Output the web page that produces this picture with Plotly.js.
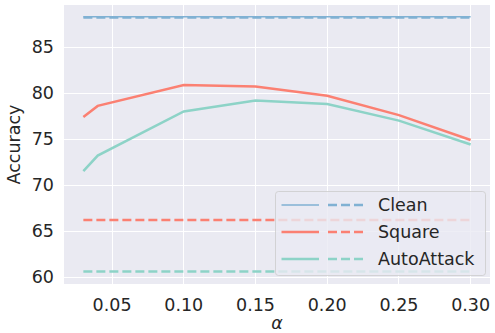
<!DOCTYPE html>
<html><head><meta charset="utf-8">
<script src="https://cdn.plot.ly/plotly-3.0.1.min.js"></script>
<style>html,body{margin:0;padding:0;background:#fff}#c{width:495px;height:333px}</style>
</head><body><div id="c"></div>
<script>
const alphas = [0.03, 0.04, 0.10, 0.15, 0.20, 0.25, 0.30];
const cleanAcc = [88.3, 88.3, 88.3, 88.3, 88.3, 88.3, 88.3];
const squareAcc = [77.4, 78.6, 80.87, 80.7, 79.7, 77.6, 74.9];
const autoAcc = [71.5, 73.2, 78.0, 79.2, 78.8, 77.0, 74.4];
const cleanBase = [88.2, 88.2, 88.2, 88.2, 88.2, 88.2, 88.2];
const squareBase = [66.2, 66.2, 66.2, 66.2, 66.2, 66.2, 66.2];
const autoBase = [60.6, 60.6, 60.6, 60.6, 60.6, 60.6, 60.6];
const names = ['Clean', 'Square', 'AutoAttack'];
const xTicks = [0.05, 0.10, 0.15, 0.20, 0.25, 0.30];
const yTicks = [60, 65, 70, 75, 80, 85];

const colors = ['#80b1d3', '#fb8072', '#8dd3c7'];
const solidW = [1.5, 2.5, 2.5];
const dash = '9px,4px';
const FONT = 'DejaVu Sans, sans-serif';
const FS = 17.5;
const txt = '#262626';

const solid = [cleanAcc, squareAcc, autoAcc];
const base = [cleanBase, squareBase, autoBase];
const traces = [];
for (let i = 0; i < 3; i++) {
  traces.push({x: alphas, y: solid[i], mode: 'lines', line: {color: colors[i], width: solidW[i]}, showlegend: false, hoverinfo: 'skip'});
  traces.push({x: alphas, y: base[i], mode: 'lines', line: {color: colors[i], width: 2.5, dash: dash}, showlegend: false, hoverinfo: 'skip'});
}

const W = 495, H = 333, L = 64, R = 5, T = 5, B = 49;
const pw = W - L - R, ph = H - T - B;
const px = v => (v - L) / pw;
const py = v => 1 - (v - T) / ph;
const shapes = [];
const annotations = [];
(function(){
  const x0 = 275.5, x1 = 485.5, y0 = 191.5, y1 = 275.5, r = 3;
  const p = `M${px(x0+r)},${py(y0)} L${px(x1-r)},${py(y0)} Q${px(x1)},${py(y0)} ${px(x1)},${py(y0+r)} L${px(x1)},${py(y1-r)} Q${px(x1)},${py(y1)} ${px(x1-r)},${py(y1)} L${px(x0+r)},${py(y1)} Q${px(x0)},${py(y1)} ${px(x0)},${py(y1-r)} L${px(x0)},${py(y0+r)} Q${px(x0)},${py(y0)} ${px(x0+r)},${py(y0)} Z`;
  shapes.push({type: 'path', xref: 'paper', yref: 'paper', path: p, fillcolor: 'rgba(234,234,242,0.8)', line: {color: 'rgba(204,204,204,0.8)', width: 1}, layer: 'above'});
})();
const rowsY = [205, 232, 259];
for (let i = 0; i < 3; i++) {
  const yy = py(rowsY[i]);
  shapes.push({type: 'line', xref: 'paper', yref: 'paper', x0: px(281.5), x1: px(319), y0: yy, y1: yy, line: {color: colors[i], width: solidW[i]}, layer: 'above'});
  shapes.push({type: 'line', xref: 'paper', yref: 'paper', x0: px(328), x1: px(365), y0: yy, y1: yy, line: {color: colors[i], width: 2.5, dash: dash}, layer: 'above'});
  annotations.push({xref: 'paper', yref: 'paper', x: px(376), y: yy, xanchor: 'left', yanchor: 'middle', text: names[i], showarrow: false, font: {family: FONT, size: FS, color: txt}});
}

const layout = {
  width: W, height: H,
  margin: {l: L, r: R, t: T, b: B, pad: 0},
  paper_bgcolor: '#ffffff', plot_bgcolor: '#eaeaf2',
  font: {family: FONT, size: FS, color: txt},
  showlegend: false,
  xaxis: {range: [0.0165, 0.3135], tickvals: xTicks, ticktext: xTicks.map(v => v.toFixed(2)), showgrid: true, gridcolor: '#ffffff', gridwidth: 1, zeroline: false, showline: false, ticks: '', ticklabelstandoff: 8,
    tickfont: {family: FONT, size: FS, color: txt},
    title: {text: '<i>α</i>', font: {family: FONT, size: FS, color: txt}, standoff: 2}},
  yaxis: {range: [59.24, 89.57], tickvals: yTicks, showgrid: true, gridcolor: '#ffffff', gridwidth: 1, zeroline: false, showline: false, ticks: '', ticklabelstandoff: 9,
    tickfont: {family: FONT, size: FS, color: txt},
    title: {text: 'Accuracy', font: {family: FONT, size: FS, color: txt}, standoff: 6}},
  shapes: shapes, annotations: annotations
};
Plotly.newPlot('c', traces, layout, {staticPlot: true, displayModeBar: false});
</script></body></html>
